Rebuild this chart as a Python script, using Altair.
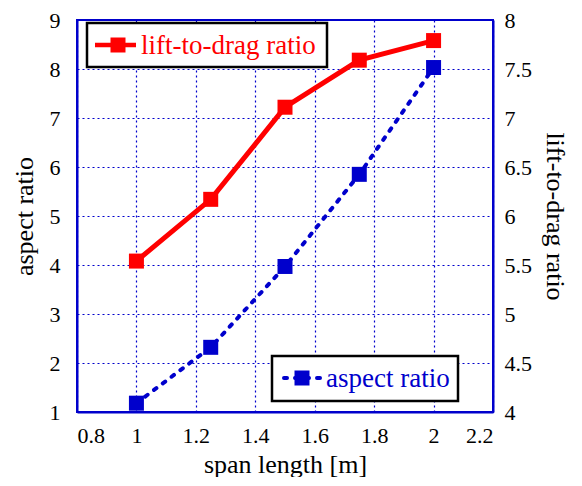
import altair as alt
import pandas as pd

# ---- data ----
span = [1.0, 1.25, 1.5, 1.75, 2.0]
aspect_ratio = [1.18, 2.32, 3.97, 5.85, 8.03]
lift_to_drag = [5.54, 6.17, 7.11, 7.59, 7.79]

x_ticks = [0.8, 1.0, 1.2, 1.4, 1.6, 1.8, 2.0, 2.2]
left_ticks = [1, 2, 3, 4, 5, 6, 7, 8, 9]
right_ticks = [4, 4.5, 5, 5.5, 6, 6.5, 7, 7.5, 8]

legend_labels = ["lift-to-drag ratio", "aspect ratio"]

RED = "#ff0000"
BLUE = "#0000cc"
FONT = "Liberation Serif, Times New Roman, serif"

df = pd.DataFrame({"span": span, "aspect": aspect_ratio, "ld": lift_to_drag})
one = pd.DataFrame({"k": [0]})

x_enc = alt.X(
    "span:Q",
    scale=alt.Scale(domain=[0.8, 2.2], nice=False, zero=False),
    axis=alt.Axis(values=x_ticks, format="~g", title="span length [m]",
                  grid=True, ticks=False, labelPadding=13, titlePadding=5),
)

base = alt.Chart(df)

y_left = alt.Y(
    "aspect:Q",
    scale=alt.Scale(domain=[1, 9], nice=False, zero=False),
    axis=alt.Axis(values=left_ticks, title="aspect ratio", grid=True,
                  ticks=False, labelPadding=17, titlePadding=12),
)
y_right = alt.Y(
    "ld:Q",
    scale=alt.Scale(domain=[4, 8], nice=False, zero=False),
    axis=alt.Axis(values=right_ticks, format="~g", orient="right",
                  title="lift-to-drag ratio", titleAngle=90, grid=False,
                  ticks=False, labelPadding=11, titlePadding=10),
)

blue_line = base.mark_line(color=BLUE, strokeWidth=4, strokeDash=[3, 8],
                           strokeCap="round").encode(x=x_enc, y=y_left)
blue_pts = base.mark_square(color=BLUE, size=225, opacity=1).encode(x="span:Q", y="aspect:Q")
left_layer = alt.layer(blue_line, blue_pts)

red_line = base.mark_line(color=RED, strokeWidth=5).encode(x=x_enc, y=y_right)
red_pts = base.mark_square(color=RED, size=225, opacity=1).encode(x="span:Q", y="ld:Q")
right_layer = alt.layer(red_line, red_pts)

# ---- legend boxes (decorations) ----
lg = alt.Chart(one)
box1 = lg.mark_rect(fill="white", stroke="black", strokeWidth=2.5).encode(
    x=alt.value(10), x2=alt.value(250), y=alt.value(3), y2=alt.value(47))
l1_line = lg.mark_rule(color=RED, strokeWidth=4.5).encode(
    x=alt.value(18), x2=alt.value(59), y=alt.value(25))
l1_sq = lg.mark_square(color=RED, size=225, opacity=1).encode(
    x=alt.value(41), y=alt.value(25))
l1_txt = lg.mark_text(text=legend_labels[0], color=RED, font=FONT, fontSize=27,
                      align="left", baseline="middle").encode(
    x=alt.value(64), y=alt.value(26))

box2 = lg.mark_rect(fill="white", stroke="black", strokeWidth=2.5).encode(
    x=alt.value(195), x2=alt.value(381), y=alt.value(336), y2=alt.value(381))
l2_line = lg.mark_rule(color=BLUE, strokeWidth=4, strokeDash=[3, 8], strokeCap="round").encode(
    x=alt.value(207), x2=alt.value(246), y=alt.value(358))
l2_sq = lg.mark_square(color=BLUE, size=225, opacity=1).encode(
    x=alt.value(225), y=alt.value(358))
l2_txt = lg.mark_text(text=legend_labels[1], color=BLUE, font=FONT, fontSize=27,
                      align="left", baseline="middle").encode(
    x=alt.value(249), y=alt.value(359))

chart = alt.layer(
    left_layer, right_layer,
    box1, l1_line, l1_sq, l1_txt,
    box2, l2_line, l2_sq, l2_txt,
).resolve_scale(y="independent").properties(
    width=416, height=392,
    padding={"left": 3, "top": 1, "right": 4, "bottom": 0},
).configure_view(
    stroke=BLUE, strokeWidth=2
).configure_axis(
    labelFont=FONT, titleFont=FONT, labelFontSize=22, titleFontSize=26,
    titleFontWeight="normal", labelColor="black", titleColor="black",
    domainColor=BLUE, domainWidth=2,
    gridColor=BLUE, gridDash=[2, 3], gridWidth=1.2, gridOpacity=1,
)

chart.save("out.html", embed_options={"renderer": "svg", "actions": False})
